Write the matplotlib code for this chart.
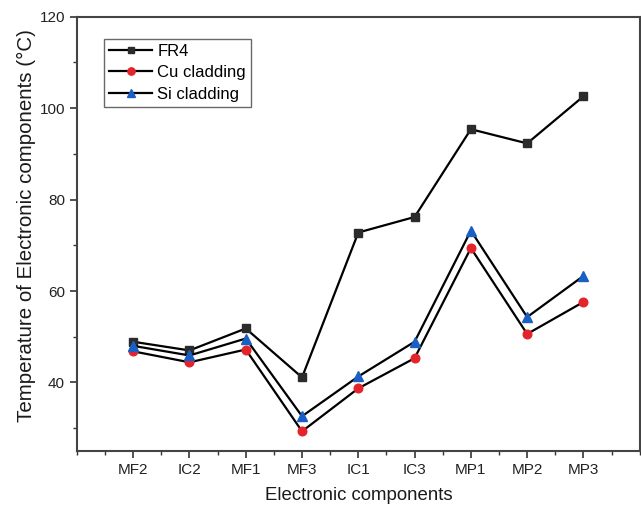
import matplotlib
matplotlib.use('Agg')
import matplotlib.pyplot as plt
from matplotlib.ticker import MultipleLocator

components = ['MF2', 'IC2', 'MF1', 'MF3', 'IC1', 'IC3', 'MP1', 'MP2', 'MP3']
fr4 = [48.9, 47.0, 51.8, 41.1, 72.8, 76.2, 95.4, 92.3, 102.6]
cu_cladding = [46.8, 44.4, 47.2, 29.3, 38.7, 45.3, 69.4, 50.6, 57.6]
si_cladding = [48.0, 45.9, 49.6, 32.6, 41.3, 48.9, 73.2, 54.3, 63.3]

plt.rcParams['font.family'] = ['Liberation Sans', 'DejaVu Sans']

fig = plt.figure(figsize=(6.41, 5.09), dpi=100)
ax = fig.add_axes([0.120, 0.114, 0.878, 0.853])

x = list(range(1, len(components) + 1))
ax.plot(x, fr4, color='black', lw=1.6, marker='s', ms=5.5,
        mfc='#2b2b2b', mec='#2b2b2b', label='FR4')
ax.plot(x, cu_cladding, color='black', lw=1.6, marker='o', ms=6.2,
        mfc='#e3242b', mec='#e3242b', label='Cu cladding')
ax.plot(x, si_cladding, color='black', lw=1.6, marker='^', ms=7,
        mfc='#1a5fc4', mec='#1a5fc4', label='Si cladding')

ax.set_xlim(0, 10)
ax.set_ylim(25, 120)
ax.set_xticks(x)
ax.set_xticklabels(components)
ax.xaxis.set_minor_locator(MultipleLocator(0.5))
ax.yaxis.set_major_locator(MultipleLocator(20))
ax.yaxis.set_minor_locator(MultipleLocator(10))
ax.tick_params(which='major', direction='out', length=5, width=1.2, labelsize=11, colors='#333333')
ax.tick_params(which='minor', direction='out', length=3, width=1.0, colors='#333333')
ax.tick_params(axis='both', labelcolor='#222222')
for s in ax.spines.values():
    s.set_color('#444444')
    s.set_linewidth(1.5)

ax.set_xlabel('Electronic components', fontsize=13.4, color='#1a1a1a', labelpad=7)
ax.set_ylabel('Temperature of Electronic components (°C)', fontsize=14.8, color='#1a1a1a')
ax.yaxis.set_label_coords(-0.072, 0.52)

leg = ax.legend(loc='upper left', bbox_to_anchor=(0.048, 0.95), fontsize=12,
                frameon=True, fancybox=False, edgecolor='#444444',
                handlelength=2.6, handletextpad=0.3, borderpad=0.3, labelspacing=0.4,
                borderaxespad=0.0, markerscale=0.85)
leg.get_frame().set_linewidth(1.0)

fig.savefig('out.png', dpi=100)
